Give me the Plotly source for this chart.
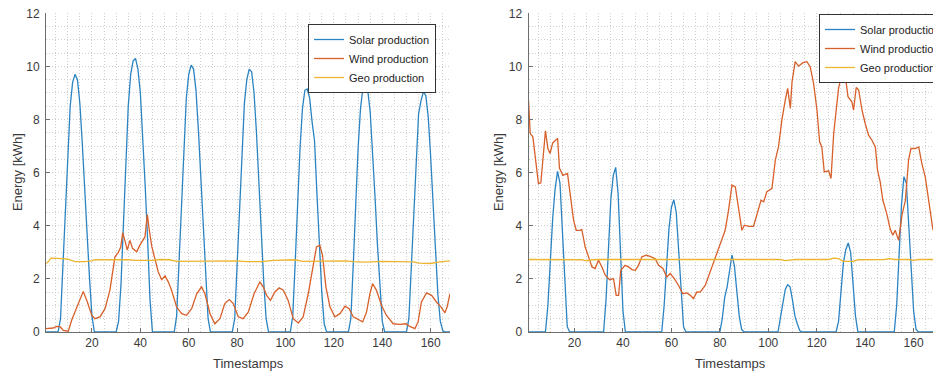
import plotly.graph_objects as go

# ---------------- data ----------------
# Left panel
solar_l_t = [1, 6, 7, 8, 9, 10, 11, 12, 13, 14, 15, 16, 17, 18, 19, 20, 21,
             30, 31, 32, 33, 34, 35, 36, 37, 38, 39, 40, 41, 42, 43, 44, 45,
             54, 55, 56, 57, 58, 59, 60, 61, 62, 63, 64, 65, 66, 67, 68, 69,
             78, 79, 80, 81, 82, 83, 84, 85, 86, 87, 88, 89, 90, 91, 92, 93,
             102, 103, 104, 105, 106, 107, 108, 109, 110, 111, 112, 113, 114, 115, 116, 117,
             126, 127, 128, 129, 130, 131, 132, 133, 134, 135, 136, 137, 138, 139, 140, 141,
             150, 151, 152, 153, 154, 155, 156, 157, 158, 159, 160, 161, 162, 163, 164, 165, 166, 168]
solar_l_v = [0, 0, 0.5, 2.6, 4.9, 7.0, 8.5, 9.4, 9.7, 9.5, 8.6, 7.1, 5.3, 3.5, 2.0, 0.6, 0,
             0, 0.4, 1.8, 4.2, 6.6, 8.5, 9.7, 10.2, 10.3, 9.9, 9.0, 7.4, 5.5, 3.5, 1.2, 0,
             0, 0.6, 2.6, 5.0, 7.2, 8.8, 9.7, 10.05, 9.9, 9.1, 7.6, 5.8, 3.8, 2.0, 0.5, 0,
             0, 0.5, 2.5, 4.8, 7.0, 8.6, 9.5, 9.9, 9.8, 9.0, 7.5, 5.6, 3.7, 1.9, 0.5, 0,
             0, 0.6, 2.6, 4.8, 6.9, 8.4, 9.1, 9.15, 8.8, 7.9, 7.2, 5.2, 3.3, 1.5, 0.3, 0,
             0, 0.5, 2.5, 4.8, 6.9, 8.4, 9.2, 9.3, 9.1, 8.3, 6.9, 5.1, 3.3, 1.7, 0.4, 0,
             0, 0.5, 2.5, 4.8, 6.8, 8.2, 8.7, 9.05, 8.9, 8.1, 6.6, 4.7, 2.9, 1.4, 0.4, 0.05, 0, 0]

wind_l_t = [1, 4, 5.4, 6.8, 8.2, 10.2, 11.6, 13.7, 16.4, 18.1, 19.9, 21.2, 23.3, 25.4, 27.4,
            29.5, 30.9, 31.9, 32.7, 33.6, 34.6, 35.7, 36.8, 38.5, 39.8, 41.9, 42.9, 43.7, 44.7,
            46, 47.4, 48.8, 50.2, 51.6, 52.9, 55, 57.1, 59.1, 61.2, 63.3, 65.3, 66.7, 68.8,
            70.8, 72.9, 74.9, 76.8, 78.4, 80.5, 82.5, 84.6, 87, 89.4, 90.8, 92.2, 93.8, 95.6,
            97.4, 99.1, 101.1, 103.2, 105.3, 107.3, 109.4, 111.5, 112.8, 114.2, 115.3, 116.7,
            118.4, 120.4, 122.5, 124.6, 126.3, 128, 130.1, 131.9, 133.5, 134.9, 136, 137.6,
            139.7, 141.7, 144.5, 147.2, 149.8, 151.4, 153.5, 154.8, 156.2, 158.3, 160.4, 162.4,
            164.5, 165.9, 166.8, 168]
wind_l_v = [0.13, 0.15, 0.21, 0.2, 0.06, 0.03, 0.44, 0.94, 1.53, 1.13, 0.63, 0.5, 0.57, 0.88, 1.57,
            2.83, 3.0, 3.2, 3.74, 3.45, 3.08, 3.45, 3.14, 3.02, 3.27, 3.58, 4.42, 3.83, 3.23,
            2.76, 2.26, 1.97, 2.11, 1.88, 1.57, 0.94, 0.69, 0.63, 0.88, 1.44, 1.7, 1.44, 0.69,
            0.31, 0.5, 1.07, 1.22, 1.07, 0.57, 0.5, 0.75, 1.44, 1.88, 1.7, 1.38, 1.19, 1.51,
            1.66, 1.57, 1.19, 0.5, 0.34, 0.57, 1.44, 2.45, 3.2, 3.27, 2.89, 1.7,
            0.94, 0.57, 0.69, 0.97, 0.88, 0.57, 0.46, 0.38, 0.75, 1.44, 1.82, 1.57,
            1.0, 0.63, 0.31, 0.29, 0.31, 0.21, 0.13, 0.38, 1.13, 1.47, 1.38, 1.13,
            0.92, 0.72, 0.94, 1.44]

geo_l_t = [1, 2, 3, 5, 8, 10, 12, 13, 17, 20, 21, 30, 35, 38, 42, 45, 48, 52, 55, 60, 65, 70,
           80, 84, 90, 95, 100, 104, 107, 115, 120, 125, 128, 133, 140, 150, 153, 155, 158, 160,
           163, 168]
geo_l_v = [2.58, 2.65, 2.78, 2.78, 2.76, 2.74, 2.68, 2.65, 2.65, 2.68, 2.72, 2.73, 2.72, 2.7,
           2.7, 2.7, 2.73, 2.72, 2.66, 2.66, 2.67, 2.68, 2.68, 2.65, 2.65, 2.7, 2.72, 2.72, 2.66,
           2.66, 2.68, 2.68, 2.65, 2.63, 2.66, 2.66, 2.64, 2.59, 2.6, 2.58, 2.63, 2.68]

# Right panel
solar_r_t = [1, 8, 9, 10, 11, 12, 13, 14, 15, 16, 17, 18,
             32, 33, 34, 35, 36, 37, 38, 39, 40, 41,
             56, 57, 58, 59, 60, 61, 62, 63, 64, 65, 66,
             80, 81, 82, 83, 84, 85, 86, 87, 88, 89, 90,
             104, 105, 106, 107, 108, 109, 110, 111, 112, 113, 114,
             128, 129, 130, 131, 132, 133, 134, 135, 136, 137,
             152, 153, 154, 155, 156, 157, 158, 159, 160, 161, 162, 168]
solar_r_v = [0, 0, 1.0, 2.6, 4.3, 5.4, 6.05, 5.6, 3.8, 1.6, 0.2, 0,
             0, 1.2, 3.2, 5.0, 5.9, 6.2, 5.2, 2.8, 0.8, 0,
             0, 1.0, 2.5, 3.9, 4.7, 4.98, 4.5, 3.0, 1.3, 0.2, 0,
             0, 0.5, 1.3, 1.7, 2.4, 2.9, 2.5, 1.5, 0.6, 0.1, 0,
             0, 0.5, 1.1, 1.6, 1.78, 1.7, 1.2, 0.6, 0.3, 0.05, 0,
             0, 0.4, 1.4, 2.6, 3.1, 3.35, 3.0, 1.8, 0.6, 0,
             0, 1.0, 2.9, 4.8, 5.85, 5.6, 4.0, 2.2, 0.8, 0.1, 0, 0]

wind_r_t = [1, 1.7, 2.8, 3.8, 5.1, 6.1, 7.2, 8, 9, 9.9, 11, 13, 13.8, 15.2, 17.1, 18.2, 19.6,
            20.7, 22.3, 23, 24.4, 25.8, 27.2, 28.5, 29.9, 31.3, 32.7, 34.5, 36.1, 37.2, 38.2,
            39.1, 40.9, 42.3, 43.7, 45.1, 46.4, 47.8, 49.6, 51.2, 53.3, 54.7, 56.5, 58.1, 59.5,
            61.2, 62.9, 64.7, 66.4, 67.8, 69.1, 70.5, 71.9, 74, 76, 78.1, 80.2, 82.2, 83.6, 85,
            86.4, 87.7, 89.1, 90.1, 91.9, 93.9, 95.3, 97, 98.1, 99.4, 101.5, 102.9, 104.2, 105.6,
            107, 108, 109.1, 109.8, 111.1, 112.5, 114.3, 115.9, 117.3, 118.7, 120.1, 121.2,
            122.1, 123.1, 124.9, 125.9, 127, 129, 130.8, 131.8, 132.9, 134.5, 135.2, 136.3,
            137.3, 138.7, 140, 141.4, 142.8, 144.2, 145.1, 146.2, 147.3, 148.9, 150.3, 151.4,
            152.4, 153.8, 155.2, 156.6, 157.9, 158.9, 160.7, 162.1, 163.4, 164.8, 166.6, 168]
wind_r_v = [8.73, 7.47, 7.35, 6.47, 5.59, 5.62, 6.85, 7.58, 6.91, 6.72, 7.12, 7.29, 6.16, 5.9,
            5.97, 5.21, 4.21, 3.83, 3.83, 3.86, 3.2, 2.83, 2.45, 2.39, 2.7, 2.45, 2.14, 1.97,
            2.01, 1.38, 1.38, 2.32, 2.51, 2.45, 2.35, 2.32, 2.51, 2.83, 2.89, 2.85, 2.76, 2.51,
            2.39, 2.07, 2.2, 2.01, 1.76, 1.44, 1.47, 1.38, 1.26, 1.51, 1.5, 1.76, 2.26, 2.83,
            3.33, 3.83, 4.59, 5.53, 5.46, 4.71, 3.83, 4.02, 3.98, 3.98, 4.46, 4.96, 4.9, 5.28,
            5.4, 6.47, 6.97, 7.98, 8.73, 9.17, 8.42, 9.42, 10.18, 10.01, 10.14, 10.18, 9.99,
            9.36, 8.35, 7.16, 6.97, 6.03, 6.07, 5.78, 7.47, 9.17, 9.86, 9.64, 8.86, 8.67, 8.35,
            9.21, 9.11, 8.35, 7.85, 7.41, 7.22, 6.97, 6.09, 5.65, 4.96, 4.46, 3.89, 3.64, 3.83,
            3.45, 4.4, 4.96, 6.47, 6.91, 6.91, 6.97, 6.34, 5.84, 4.71, 3.83]

geo_r_t = [1, 20, 23, 25, 27, 30, 60, 90, 105, 107, 109, 111, 125, 127, 129, 131, 135, 137,
           148, 150, 152, 158, 160, 162, 168]
geo_r_v = [2.73, 2.73, 2.72, 2.68, 2.72, 2.73, 2.73, 2.73, 2.73, 2.69, 2.72, 2.73, 2.73, 2.78,
           2.76, 2.66, 2.66, 2.72, 2.73, 2.76, 2.73, 2.73, 2.7, 2.73, 2.73]

series_names = ["Solar production", "Wind production", "Geo production"]
series_colors = ["#2a84c2", "#d8602a", "#ecb530"]

x_ticks = [20, 40, 60, 80, 100, 120, 140, 160]
y_ticks = [0, 2, 4, 6, 8, 10, 12]

# ---------------- figure ----------------
W, H = 933, 371
fig = go.Figure()

panels = [
    ("x", "y", "legend", [(solar_l_t, solar_l_v), (wind_l_t, wind_l_v), (geo_l_t, geo_l_v)]),
    ("x2", "y2", "legend2", [(solar_r_t, solar_r_v), (wind_r_t, wind_r_v), (geo_r_t, geo_r_v)]),
]
for xa, ya, lg, data in panels:
    for (t, v), name, col in zip(data, series_names, series_colors):
        fig.add_trace(go.Scatter(x=t, y=v, mode="lines", name=name, xaxis=xa, yaxis=ya,
                                 legend=lg, line=dict(color=col, width=1.3)))

font_family = "Liberation Sans, Arial, Helvetica, sans-serif"
grid_col = "#cfcfcf"
axis_col = "#6e6e6e"
text_col = "#3a3a3a"

def xaxis(domain, anchor):
    return dict(domain=domain, anchor=anchor, range=[1, 168], tickvals=x_ticks,
                ticks="inside", ticklen=4, tickcolor=axis_col, showline=True,
                linecolor=axis_col, linewidth=1, mirror=False, zeroline=False,
                showgrid=True, gridcolor=grid_col, griddash="1px,2px", gridwidth=1,
                minor=dict(dtick=5, tick0=0, showgrid=True, gridcolor=grid_col,
                           griddash="1px,2px", ticks=""),
                tickfont=dict(size=12, color=text_col, family=font_family))

def yaxis(domain, anchor):
    return dict(domain=domain, anchor=anchor, range=[0, 12], tickvals=y_ticks,
                ticks="inside", ticklen=4, tickcolor=axis_col, showline=True,
                linecolor=axis_col, linewidth=1, mirror=False, zeroline=False,
                showgrid=True, gridcolor=grid_col, griddash="1px,2px", gridwidth=1,
                minor=dict(dtick=0.5, tick0=0, showgrid=True, gridcolor=grid_col,
                           griddash="1px,2px", ticks=""),
                ticklabelstandoff=3,
                tickfont=dict(size=12, color=text_col, family=font_family))

ydom = [(H - 332) / H, (H - 13.3) / H]
xdom1 = [46 / W, 450 / W]
xdom2 = [528.5 / W, 933 / W]

legend_common = dict(bgcolor="white", bordercolor="#333333", borderwidth=1,
                     font=dict(size=11, color="#222222", family=font_family),
                     yanchor="top", tracegroupgap=0, itemwidth=30)

fig.update_layout(
    width=W, height=H,
    margin=dict(l=0, r=0, t=0, b=0, autoexpand=False),
    paper_bgcolor="white", plot_bgcolor="white",
    font=dict(family=font_family, color=text_col),
    xaxis=xaxis(xdom1, "y"), yaxis=yaxis(ydom, "x"),
    xaxis2=xaxis(xdom2, "y2"), yaxis2=yaxis(ydom, "x2"),
    legend=dict(x=436 / W, xanchor="right", y=1 - 24 / H, **legend_common),
    legend2=dict(x=819 / W, xanchor="left", y=1 - 14 / H, **legend_common),
    showlegend=True,
)

annos = [
    dict(text="Timestamps", x=248 / W, y=1 - 363 / H),
    dict(text="Timestamps", x=730.7 / W, y=1 - 363 / H),
    dict(text="Energy [kWh]", x=17.5 / W, y=1 - 172.6 / H, textangle=-90),
    dict(text="Energy [kWh]", x=498.5 / W, y=1 - 172.6 / H, textangle=-90),
]
for a in annos:
    fig.add_annotation(xref="paper", yref="paper", xanchor="center", yanchor="middle",
                       showarrow=False, font=dict(size=13, color=text_col, family=font_family),
                       **a)

fig.write_html("out.html")
